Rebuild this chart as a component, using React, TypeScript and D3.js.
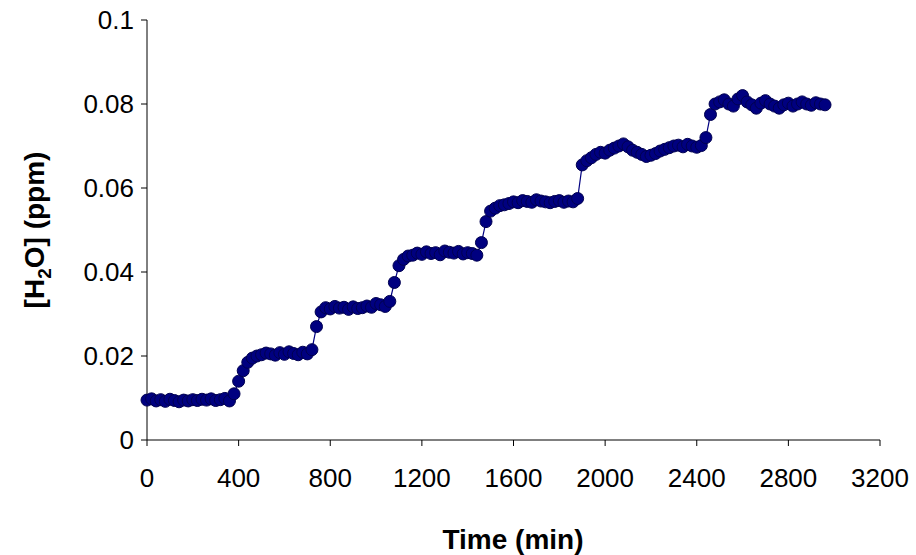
import React from "react";
import * as d3 from "d3";

const STEP_MIN = 20;
const values: number[] = [
  0.0095,0.0098,0.0093,0.0096,0.0092,0.0097,0.0094,0.0091,0.0095,0.0093,0.0096,0.0094,0.0097,0.0095,0.0098,0.0094,0.0096,0.0099,0.0093,
  0.0110,0.0140,0.0165,0.0185,
  0.0195,0.0200,0.0203,0.0207,0.0205,0.0202,0.0208,0.0204,0.0210,0.0206,0.0203,0.0209,0.0205,
  0.0215,0.0270,0.0305,
  0.0315,0.0312,0.0318,0.0314,0.0316,0.0311,0.0317,0.0313,0.0315,0.0319,0.0316,0.0325,0.0322,0.0318,
  0.0330,0.0375,0.0415,
  0.0430,0.0438,0.0440,0.0445,0.0442,0.0448,0.0444,0.0446,0.0441,0.0450,0.0447,0.0445,0.0449,0.0443,0.0446,0.0444,0.0440,
  0.0470,0.0520,0.0545,
  0.0552,0.0558,0.0560,0.0563,0.0567,0.0565,0.0570,0.0568,0.0566,0.0572,0.0569,0.0567,0.0565,0.0568,0.0570,0.0566,0.0569,0.0567,0.0575,
  0.0655,0.0665,0.0672,0.0680,0.0685,0.0683,0.0690,0.0695,0.0700,0.0705,0.0698,0.0690,0.0685,0.0680,0.0675,0.0678,0.0682,0.0688,0.0692,0.0696,0.0700,0.0702,0.0698,0.0704,0.0700,0.0697,0.0701,
  0.0720,0.0775,0.0800,
  0.0805,0.0810,0.0800,0.0795,0.0812,0.0820,0.0805,0.0798,0.0790,0.0802,0.0808,0.0800,0.0795,0.0790,0.0798,0.0802,0.0795,0.0800,0.0805,0.0800,0.0797,0.0803,0.0800,0.0798,
];
const xTicks = [0, 400, 800, 1200, 1600, 2000, 2400, 2800, 3200];
const yTicks = [0, 0.02, 0.04, 0.06, 0.08, 0.1];
const yTickLabels = ["0", "0.02", "0.04", "0.06", "0.08", "0.1"];

export default function App() {
  const x = d3.scaleLinear().domain([0, 3200]).range([147, 880]);
  const y = d3.scaleLinear().domain([0, 0.1]).range([440, 20]);
  const pts = values.map((v, i) => [i * STEP_MIN, v] as [number, number]);
  const line = d3.line<[number, number]>().x(d => x(d[0])).y(d => y(d[1]));
  const font = "'Liberation Sans', Arial, sans-serif";
  const col = "#000080";
  return (
    <svg width={916} height={555} style={{ position: "absolute", left: 0, top: 0, background: "#fff" }} fontFamily={font}>
      <line x1={147} x2={147} y1={20} y2={440} stroke="#000" />
      <line x1={147} x2={880} y1={440} y2={440} stroke="#000" />
      {yTicks.map((t, i) => (
        <g key={t}>
          <line x1={141} x2={147} y1={y(t)} y2={y(t)} stroke="#000" />
          <text x={134} y={y(t) + 9} textAnchor="end" fontSize={26}>{yTickLabels[i]}</text>
        </g>
      ))}
      {xTicks.map(t => (
        <g key={t}>
          <line x1={x(t)} x2={x(t)} y1={440} y2={446} stroke="#000" />
          <text x={x(t)} y={487} textAnchor="middle" fontSize={26}>{t}</text>
        </g>
      ))}
      <path d={line(pts) || ""} fill="none" stroke={col} strokeWidth={1.2} />
      {pts.map((p, i) => (
        <circle key={i} cx={x(p[0])} cy={y(p[1])} r={6} fill={col} stroke="#000050" strokeWidth={1} />
      ))}
      <text x={513} y={549} textAnchor="middle" fontSize={28} fontWeight="bold">Time (min)</text>
      <text transform="translate(44,230) rotate(-90)" textAnchor="middle" fontSize={28} fontWeight="bold">
        [H<tspan fontSize={19} dy={7}>2</tspan><tspan dy={-7}>O] (ppm)</tspan>
      </text>
    </svg>
  );
}
